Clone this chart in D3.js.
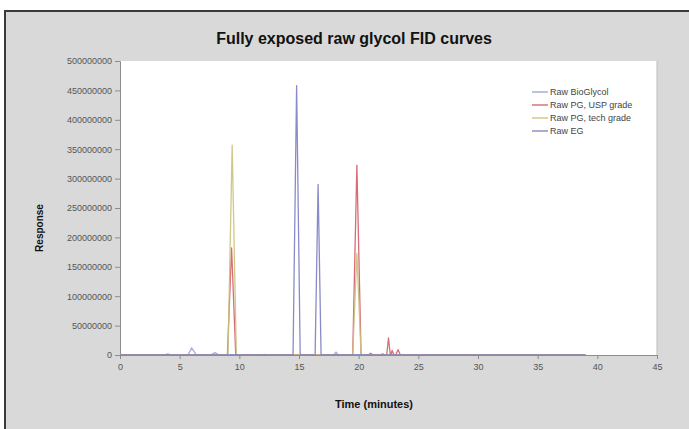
<!DOCTYPE html>
<html>
<head>
<meta charset="utf-8">
<script src="https://cdn.jsdelivr.net/npm/d3@7"></script>
<style>
  html, body { margin: 0; padding: 0; background: #fff; }
  svg { display: block; font-family: "Liberation Sans", Arial, sans-serif; }
</style>
</head>
<body>
<svg id="chart" width="689" height="429"></svg>
<script>
// ---- Data ----
const title = "Fully exposed raw glycol FID curves";
const xTitle = "Time (minutes)";
const yTitle = "Response";
const xTicks = [0, 5, 10, 15, 20, 25, 30, 35, 40, 45];
const yTicks = [0, 50000000, 100000000, 150000000, 200000000, 250000000, 300000000, 350000000, 400000000, 450000000, 500000000];
const seriesNames = ["Raw BioGlycol", "Raw PG, USP grade", "Raw PG, tech grade", "Raw EG"];
const seriesColors = ["#8fa6d6", "#d35c68", "#c9c27c", "#7d7dc2"];

const bioTime  = [0, 3.7, 4.0, 4.3, 5.7, 6.0, 6.4, 7.6, 7.95, 8.3, 11.9, 12.1, 12.3, 17.9, 18.1, 18.3, 39];
const bioValue = [0, 0, 2000000, 0, 0, 12000000, 0, 0, 4000000, 0, 0, 1000000, 0, 0, 5000000, 0, 0];

const uspTime  = [0, 9.0, 9.35, 9.7, 19.5, 19.85, 20.2, 20.8, 21.0, 21.2, 21.8, 22.0, 22.2, 22.35, 22.5, 22.65, 22.7, 22.8, 22.95, 23.1, 23.3, 23.5, 39];
const uspValue = [0, 0, 182000000, 0, 0, 323000000, 0, 0, 3000000, 0, 0, 2000000, 0, 0, 29000000, 0, 0, 8000000, 0, 0, 9000000, 0, 0];

const techTime  = [0, 9.05, 9.4, 9.75, 19.5, 19.85, 20.2, 39];
const techValue = [0, 0, 357000000, 0, 0, 173000000, 0, 0];

const egTime  = [0, 14.5, 14.8, 15.1, 16.35, 16.6, 16.85, 39];
const egValue = [0, 0, 458000000, 0, 0, 290000000, 0, 0];

const seriesTimes = [bioTime, uspTime, techTime, egTime];
const seriesValues = [bioValue, uspValue, techValue, egValue];

// ---- Drawing ----
const svg = d3.select("#chart");
const W = 689, H = 429;
const plot = { left: 120, right: 657, top: 61, bottom: 355 };

// chart background with frame
svg.append("rect").attr("x", 5).attr("y", 11).attr("width", W + 10).attr("height", H + 10)
  .attr("fill", "#d9d9d9").attr("stroke", "#3a3a3a").attr("stroke-width", 2);

// plot area
svg.append("rect").attr("x", plot.left).attr("y", plot.top)
  .attr("width", plot.right - plot.left).attr("height", plot.bottom - plot.top)
  .attr("fill", "#ffffff");
svg.append("line").attr("x1", plot.right).attr("x2", plot.right)
  .attr("y1", plot.top).attr("y2", plot.bottom).attr("stroke", "#bdbdbd").attr("stroke-width", 1);

const x = d3.scaleLinear().domain([0, 45]).range([plot.left, plot.right]);
const y = d3.scaleLinear().domain([0, 500000000]).range([plot.bottom, plot.top]);

// series
const line = d3.line().x(d => x(d[0])).y(d => y(d[1]));
seriesNames.forEach((name, i) => {
  const pts = seriesTimes[i].map((t, j) => [t, seriesValues[i][j]]);
  svg.append("path").datum(pts)
    .attr("fill", "none")
    .attr("stroke", seriesColors[i])
    .attr("stroke-width", 1.3)
    .attr("stroke-opacity", 0.9)
    .attr("stroke-linejoin", "round")
    .attr("d", line);
});

// axes
const yAxis = d3.axisLeft(y).tickValues(yTicks).tickSize(5).tickPadding(3).tickFormat(d3.format("d"));
const xAxis = d3.axisBottom(x).tickValues(xTicks).tickSize(4).tickPadding(5).tickFormat(d3.format("d"));

const gy = svg.append("g").attr("transform", `translate(${plot.left},0)`).call(yAxis);
const gx = svg.append("g").attr("transform", `translate(0,${plot.bottom})`).call(xAxis);
[gx, gy].forEach(g => {
  g.select(".domain").attr("stroke", "#8c8c8c");
  g.selectAll(".tick line").attr("stroke", "#8c8c8c");
  g.selectAll(".tick text").attr("fill", "#555").style("font-size", "9px")
    .style("font-family", "'Liberation Sans', Arial, sans-serif");
});

// titles
svg.append("text").attr("x", 354).attr("y", 44).attr("text-anchor", "middle")
  .style("font-size", "16px").style("font-weight", "bold").attr("fill", "#111").text(title);
svg.append("text").attr("x", 374).attr("y", 408).attr("text-anchor", "middle")
  .style("font-size", "11px").style("font-weight", "bold").attr("fill", "#111").text(xTitle);
svg.append("text").attr("transform", "translate(43,228) rotate(-90)").attr("text-anchor", "middle")
  .style("font-size", "10px").style("font-weight", "bold").attr("fill", "#111").text(yTitle);

// legend
const lg = svg.append("g");
seriesNames.forEach((name, i) => {
  const ly = 92 + i * 13;
  lg.append("line").attr("x1", 532).attr("x2", 548).attr("y1", ly).attr("y2", ly)
    .attr("stroke", seriesColors[i]).attr("stroke-width", 1.3);
  lg.append("text").attr("x", 550).attr("y", ly + 3).style("font-size", "9px")
    .attr("fill", "#444").text(name);
});
</script>
</body>
</html>
